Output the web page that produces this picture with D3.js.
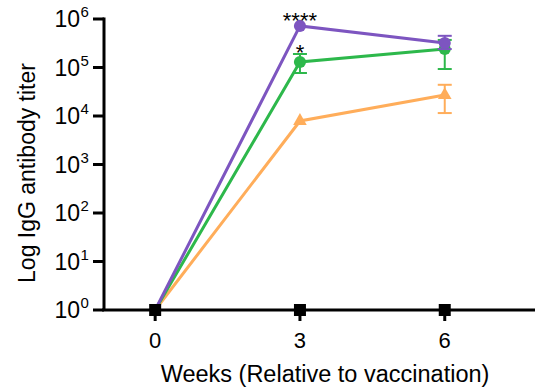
<!DOCTYPE html>
<html>
<head>
<meta charset="utf-8">
<script src="https://cdn.jsdelivr.net/npm/d3@7"></script>
<style>
  body { margin: 0; background: #fff; }
  svg { display: block; font-family: "Liberation Sans", Arial, sans-serif; }
</style>
</head>
<body>
<div id="chart"></div>
<script>
// Data
const weeks = [0, 3, 6];
const yTickExps = [0, 1, 2, 3, 4, 5, 6];

const purpleMean = [1, 7.2e5, 3.2e5];
const purpleLow  = [null, null, 2.4e5];
const purpleHigh = [null, null, 4.5e5];

const greenMean = [1, 1.3e5, 2.4e5];
const greenLow  = [null, 7.7e4, 9.3e4];
const greenHigh = [null, 1.9e5, 3.7e5];

const orangeMean = [1, 7.9e3, 2.7e4];
const orangeLow  = [null, null, 1.15e4];
const orangeHigh = [null, null, 4.4e4];

const controlMean = [1, 1, 1];

const stars = [
  { week: 3, value: 7.2e5, text: '****', dy: 2 },
  { week: 3, value: 1.9e5, text: '*', dy: 6 }
];

const W = 535, H = 390;
const svg = d3.select('#chart').append('svg').attr('width', W).attr('height', H);

const x = d3.scaleLinear().domain([-1.06, 7.87]).range([104, 535]);
const y = d3.scaleLog().domain([1, 1e6]).range([310, 19]);

// Y axis
svg.append('line')
  .attr('x1', x(-1.06)).attr('x2', x(-1.06))
  .attr('y1', y(1e6) - 1.5).attr('y2', y(1))
  .attr('stroke', '#000').attr('stroke-width', 3);

const yt = svg.append('g');
yTickExps.forEach(e => {
  const yy = y(Math.pow(10, e));
  yt.append('line')
    .attr('x1', 93).attr('x2', 104)
    .attr('y1', yy).attr('y2', yy)
    .attr('stroke', '#000').attr('stroke-width', 3);
  yt.append('text')
    .attr('x', 80).attr('y', yy + 8)
    .attr('text-anchor', 'end')
    .style('font-size', '23px').style('fill', '#000')
    .text('10');
  yt.append('text')
    .attr('x', 80.5).attr('y', yy - 2)
    .style('font-size', '15px').style('fill', '#000')
    .text(e);
});

// X axis
svg.append('line')
  .attr('x1', 102).attr('x2', W)
  .attr('y1', y(1)).attr('y2', y(1))
  .attr('stroke', '#000').attr('stroke-width', 3);

weeks.forEach(w => {
  svg.append('line')
    .attr('x1', x(w)).attr('x2', x(w))
    .attr('y1', y(1)).attr('y2', y(1) + 11)
    .attr('stroke', '#000').attr('stroke-width', 3);
  svg.append('text')
    .attr('x', x(w)).attr('y', 348)
    .attr('text-anchor', 'middle')
    .style('font-size', '22px')
    .text(w);
});

// Axis titles
svg.append('text')
  .attr('x', 325).attr('y', 382)
  .attr('text-anchor', 'middle')
  .style('font-size', '23.5px')
  .text('Weeks (Relative to vaccination)');

svg.append('text')
  .attr('transform', 'translate(35,173) rotate(-90)')
  .attr('text-anchor', 'middle')
  .style('font-size', '23px')
  .text('Log IgG antibody titer');

const line = d3.line().x((d, i) => x(weeks[i])).y(d => y(d));

function drawSeries(mean, low, high, color, shape) {
  const g = svg.append('g');
  // error bars
  weeks.forEach((w, i) => {
    if (low[i] == null) return;
    const cx = x(w);
    g.append('line').attr('x1', cx).attr('x2', cx)
      .attr('y1', y(low[i])).attr('y2', y(high[i]))
      .attr('stroke', color).attr('stroke-width', 2);
    [low[i], high[i]].forEach(v => {
      g.append('line').attr('x1', cx - 7).attr('x2', cx + 7)
        .attr('y1', y(v)).attr('y2', y(v))
        .attr('stroke', color).attr('stroke-width', 2);
    });
  });
  g.append('path').datum(mean)
    .attr('d', line)
    .attr('fill', 'none').attr('stroke', color).attr('stroke-width', 3);
  const sym = d3.symbol().type(shape).size(shape === d3.symbolTriangle ? 80 : 115);
  g.selectAll('.pt').data(mean.slice(1)).enter()
    .append('path')
    .attr('transform', (d, i) => `translate(${x(weeks[i + 1])},${y(d)})`)
    .attr('d', sym)
    .attr('fill', color);
}

drawSeries(orangeMean, orangeLow, orangeHigh, '#ffad5a', d3.symbolTriangle);
drawSeries(greenMean, greenLow, greenHigh, '#2db84b', d3.symbolCircle);
drawSeries(purpleMean, purpleLow, purpleHigh, '#7d55c0', d3.symbolCircle);

// Control group (black squares)
svg.selectAll('.ctl').data(controlMean).enter()
  .append('rect')
  .attr('x', (d, i) => x(weeks[i]) - 6)
  .attr('y', d => y(d) - 6)
  .attr('width', 12).attr('height', 12)
  .attr('fill', '#000');

// Significance stars
svg.selectAll('.star').data(stars).enter()
  .append('text')
  .attr('x', d => x(d.week))
  .attr('y', d => y(d.value) + d.dy)
  .attr('text-anchor', 'middle')
  .style('font-size', '22px')
  .text(d => d.text);
</script>
</body>
</html>
